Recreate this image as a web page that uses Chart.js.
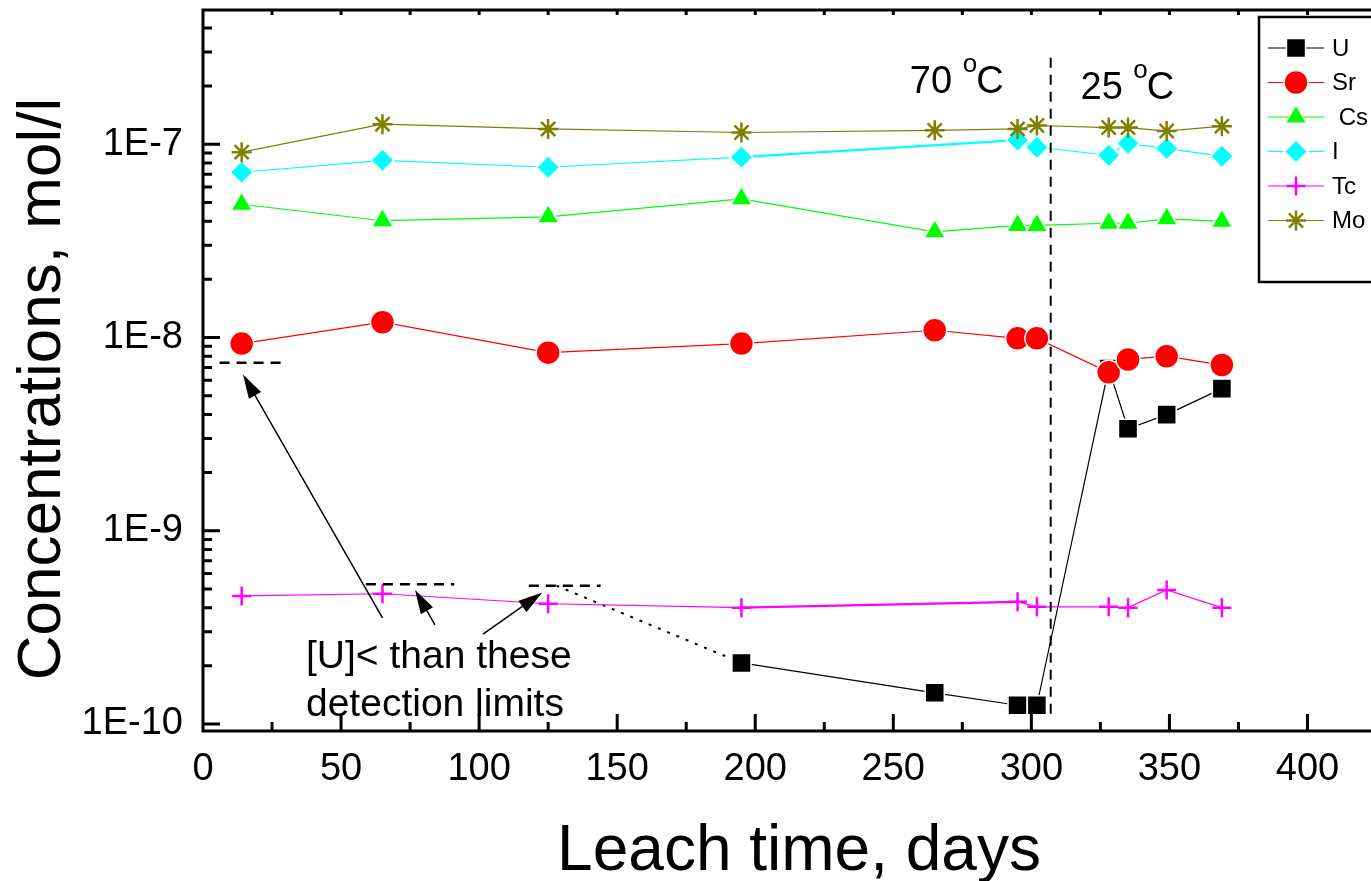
<!DOCTYPE html>
<html>
<head>
<meta charset="utf-8">
<script src="https://cdn.jsdelivr.net/npm/chart.js@4.4.1/dist/chart.umd.min.js"></script>
<style>
  html, body { margin: 0; padding: 0; background: #fff; }
  #wrap { width: 1371px; height: 881px; }
</style>
</head>
<body>
<div id="wrap"><canvas id="leachChart" width="1371" height="881"></canvas></div>
<script>
// leach time (days) at which samples were taken
const days = [14, 65, 125, 195, 265, 295, 302, 328, 335, 349, 369];

// concentrations, mol/l (null = not measured / below detection)
const uValues  = [null, null, null, 2.07e-10, 1.45e-10, 1.25e-10, 1.25e-10, 6.9e-9, 3.37e-9, 3.99e-9, 5.44e-9];
const srValues = [9.3e-9, 1.2e-8, 8.35e-9, 9.3e-9, 1.09e-8, 9.9e-9, 9.9e-9, 6.6e-9, 7.7e-9, 8.0e-9, 7.2e-9];
const csValues = [4.89e-8, 4.02e-8, 4.21e-8, 5.22e-8, 3.52e-8, 3.8e-8, 3.8e-8, 3.9e-8, 3.9e-8, 4.11e-8, 3.99e-8];
const iValues  = [7.16e-8, 8.26e-8, 7.6e-8, 8.57e-8, null, 1.05e-7, 9.65e-8, 8.77e-8, 1.01e-7, 9.5e-8, 8.67e-8];
const tcValues = [4.6e-10, 4.72e-10, 4.19e-10, 4.0e-10, null, 4.29e-10, 4.04e-10, 4.04e-10, 4.0e-10, 4.94e-10, 4.0e-10];
const moValues = [9.1e-8, 1.27e-7, 1.2e-7, 1.15e-7, 1.18e-7, 1.2e-7, 1.25e-7, 1.22e-7, 1.22e-7, 1.17e-7, 1.24e-7];

// axis tick labels
const xTickLabels = [0, 50, 100, 150, 200, 250, 300, 350, 400];
const yTickLabels = ["1E-10", "1E-9", "1E-8", "1E-7"];

// U detection limits (day range, level) and the dotted link to the first U value
const limitDays = [[6, 30], [59, 91], [118, 144]];
const limitValues = [7.4e-9, 5.28e-10, 5.2e-10];
const limitLinkStart = [128, 5.2e-10];

// 70 C / 25 C switch
const switchDay = 307;

const FONT = "'Liberation Sans', Arial, sans-serif";

const series = [
    { label: "U",   values: uValues,  color: "#000000", style: "rect",     radius: 13.5 },
    { label: "Sr",  values: srValues, color: "#ff0000", style: "circle",   radius: 12 },
    { label: " Cs", values: csValues, color: "#00ff00", style: "triangle", radius: 12.5 },
    { label: "I",   values: iValues,  color: "#00ffff", style: "rectRot",  radius: 11.5 },
    { label: "Tc",  values: tcValues, color: "#ff00ff", style: "cross",    radius: 9.5 },
    { label: "Mo",  values: moValues, color: "#808000", style: "star",     radius: 10 },
];

function isStroked(style) {
    return style === "cross" || style === "star";
}

function toPoints(values) {
    return days.map((d, i) => ({ x: d, y: values[i] })).filter(p => p.y !== null);
}

const datasets = series.map((s, i) => ({
    label: s.label,
    data: toPoints(s.values),
    borderColor: s.color,
    borderWidth: 1.2,
    pointStyle: s.style,
    pointRadius: s.radius,
    pointBackgroundColor: s.color,
    pointBorderColor: isStroked(s.style) ? s.color : "#ffffff",
    pointBorderWidth: isStroked(s.style) ? 2.5 : 1.5,
    order: series.length - i,
    segment: {
        borderWidth: c => (c.p0.parsed.x === 195 && c.p1.parsed.x === 295 ? 2.2 : 1.2),
    },
}));

function drawMarker(ctx, style, x, y, r, color) {
    ctx.save();
    ctx.fillStyle = color;
    ctx.strokeStyle = isStroked(style) ? color : "#ffffff";
    ctx.lineWidth = isStroked(style) ? 2.5 : 1.5;
    ctx.beginPath();
    if (style === "circle") {
        ctx.arc(x, y, r, 0, Math.PI * 2);
    } else if (style === "rect") {
        const h = r * Math.SQRT1_2;
        ctx.rect(x - h, y - h, 2 * h, 2 * h);
    } else if (style === "rectRot") {
        ctx.moveTo(x - r, y); ctx.lineTo(x, y - r); ctx.lineTo(x + r, y); ctx.lineTo(x, y + r);
        ctx.closePath();
    } else if (style === "triangle") {
        for (let k = 0; k < 3; k++) {
            const a = k * 2 * Math.PI / 3;
            const px = x + Math.sin(a) * r, py = y - Math.cos(a) * r;
            if (k === 0) ctx.moveTo(px, py); else ctx.lineTo(px, py);
        }
        ctx.closePath();
    } else if (style === "cross") {
        ctx.moveTo(x, y - r); ctx.lineTo(x, y + r);
        ctx.moveTo(x - r, y); ctx.lineTo(x + r, y);
    } else if (style === "star") {
        ctx.moveTo(x, y - r); ctx.lineTo(x, y + r);
        ctx.moveTo(x - r, y); ctx.lineTo(x + r, y);
        const d = r * Math.SQRT1_2;
        ctx.moveTo(x - d, y - d); ctx.lineTo(x + d, y + d);
        ctx.moveTo(x + d, y - d); ctx.lineTo(x - d, y + d);
    }
    if (!isStroked(style)) ctx.fill();
    ctx.stroke();
    ctx.restore();
}

function arrow(ctx, x0, y0, x1, y1) {
    const ang = Math.atan2(y1 - y0, x1 - x0);
    const len = 24, half = 7;
    ctx.beginPath();
    ctx.moveTo(x0, y0);
    ctx.lineTo(x1 - Math.cos(ang) * len * 0.8, y1 - Math.sin(ang) * len * 0.8);
    ctx.stroke();
    ctx.beginPath();
    ctx.moveTo(x1, y1);
    ctx.lineTo(x1 - Math.cos(ang) * len - Math.sin(ang) * half, y1 - Math.sin(ang) * len + Math.cos(ang) * half);
    ctx.lineTo(x1 - Math.cos(ang) * len + Math.sin(ang) * half, y1 - Math.sin(ang) * len - Math.cos(ang) * half);
    ctx.closePath();
    ctx.fill();
}

function tempLabel(ctx, x, y, num) {
    ctx.font = "38px " + FONT;
    ctx.fillText(num + " ", x, y);
    let cx = x + ctx.measureText(num + " ").width;
    ctx.font = "26px " + FONT;
    ctx.fillText("o", cx, y - 21);
    cx += ctx.measureText("o").width - 1;
    ctx.font = "38px " + FONT;
    ctx.fillText("C", cx, y);
}

const annotations = {
    id: "annotations",
    beforeDatasetsDraw(chart) {
        const { ctx, scales: { x, y } } = chart;
        // dotted link from last detection limit to first measured U value
        ctx.save();
        ctx.strokeStyle = "#000";
        ctx.lineWidth = 2;
        ctx.setLineDash([3, 7]);
        ctx.beginPath();
        ctx.moveTo(x.getPixelForValue(limitLinkStart[0]), y.getPixelForValue(limitLinkStart[1]));
        ctx.lineTo(x.getPixelForValue(195), y.getPixelForValue(uValues[3]));
        ctx.stroke();
        ctx.restore();
    },
    afterDatasetsDraw(chart) {
        const { ctx, scales: { x, y } } = chart;
        ctx.save();
        ctx.strokeStyle = "#000";
        ctx.fillStyle = "#000";

        // temperature switch
        ctx.lineWidth = 2;
        ctx.setLineDash([10, 7]);
        const sx = x.getPixelForValue(switchDay);
        ctx.beginPath();
        ctx.moveTo(sx, y.getPixelForValue(2.8e-7));
        ctx.lineTo(sx, y.getPixelForValue(1.06e-10));
        ctx.stroke();

        // detection limits
        ctx.lineWidth = 2.5;
        ctx.setLineDash([10, 7]);
        limitDays.forEach((r, i) => {
            const py = y.getPixelForValue(limitValues[i]);
            ctx.beginPath();
            ctx.moveTo(x.getPixelForValue(r[0]), py);
            ctx.lineTo(x.getPixelForValue(r[1]), py);
            ctx.stroke();
        });

        // arrows
        ctx.setLineDash([]);
        ctx.lineWidth = 1.5;
        const P = (d, v) => [x.getPixelForValue(d), y.getPixelForValue(v)];
        [
            [P(65, 3.54e-10), P(14.5, 6.43e-9)],
            [P(84, 3.26e-10), P(76.8, 4.94e-10)],
            [P(101.4, 2.92e-10), P(122.8, 4.78e-10)],
        ].forEach(([a, b]) => arrow(ctx, a[0], a[1], b[0], b[1]));

        // texts
        ctx.textAlign = "left";
        ctx.textBaseline = "alphabetic";
        ctx.font = "39px " + FONT;
        ctx.fillText("[U]< than these", x.getPixelForValue(37.3), y.getPixelForValue(1.95e-10));
        ctx.fillText("detection limits", x.getPixelForValue(37.3), y.getPixelForValue(1.1e-10));
        tempLabel(ctx, x.getPixelForValue(256), y.getPixelForValue(1.84e-7), "70");
        tempLabel(ctx, x.getPixelForValue(317.8), y.getPixelForValue(1.71e-7), "25");
        ctx.restore();
    },
    afterDraw(chart) {
        const { ctx, chartArea: { left, top, right, bottom }, scales: { x, y } } = chart;
        ctx.save();
        ctx.strokeStyle = "#000";
        ctx.lineWidth = 3;
        ctx.beginPath();
        // frame: left, bottom, top
        ctx.moveTo(left, top); ctx.lineTo(left, bottom + 1.5);
        ctx.moveTo(left - 1.5, bottom); ctx.lineTo(right, bottom);
        ctx.moveTo(left - 1.5, top); ctx.lineTo(right, top);
        // y ticks (inward)
        y.ticks.forEach(t => {
            const py = y.getPixelForValue(t.value);
            const major = Math.abs(Math.log10(t.value) - Math.round(Math.log10(t.value))) < 1e-6;
            ctx.moveTo(left, py); ctx.lineTo(left + (major ? 17 : 9), py);
        });
        // x ticks (inward) bottom and top
        x.ticks.forEach(t => {
            const px = x.getPixelForValue(t.value);
            const major = t.value % 50 === 0;
            ctx.moveTo(px, bottom); ctx.lineTo(px, bottom - (major ? 17 : 9));
            ctx.moveTo(px, top); ctx.lineTo(px, top + 5);
        });
        ctx.stroke();

        // axis titles
        ctx.fillStyle = "#000";
        ctx.textAlign = "center";
        ctx.textBaseline = "alphabetic";
        ctx.font = "64px " + FONT;
        ctx.fillText("Leach time, days", 799, 870);
        ctx.save();
        ctx.translate(60, 389);
        ctx.rotate(-Math.PI / 2);
        ctx.font = "62px " + FONT;
        ctx.fillText("Concentrations, mol/l", 0, 0);
        ctx.restore();

        // legend
        const lx = 1259, ly = 17;
        ctx.lineWidth = 2.5;
        ctx.strokeRect(lx, ly, 140, 265);
        series.forEach((s, i) => {
            const cy = 48 + i * 34.5;
            ctx.strokeStyle = s.color;
            ctx.lineWidth = 1.2;
            ctx.beginPath();
            ctx.moveTo(1268, cy); ctx.lineTo(1324, cy);
            ctx.stroke();
            drawMarker(ctx, s.style, 1296, cy, s.radius, s.color);
            ctx.fillStyle = "#000";
            ctx.textAlign = "left";
            ctx.textBaseline = "middle";
            ctx.font = "24px " + FONT;
            ctx.fillText(s.label, 1332, cy + 1);
        });
        ctx.restore();
    },
};

const ctxEl = document.getElementById("leachChart");
new Chart(ctxEl, {
    type: "line",
    data: { datasets: datasets },
    options: {
        responsive: false,
        animation: false,
        events: [],
        layout: { autoPadding: false, padding: { top: 10, right: 0, left: 0, bottom: 0 } },
        plugins: { legend: { display: false }, tooltip: { enabled: false } },
        scales: {
            x: {
                type: "linear",
                min: 0,
                max: 423,
                grid: { display: false, drawTicks: false },
                border: { display: false },
                afterBuildTicks: s => {
                    const t = [];
                    for (let v = 0; v <= 400; v += 25) t.push({ value: v });
                    s.ticks = t;
                },
                afterFit: s => { s.height = 150; s.paddingLeft = 0; s.paddingRight = 0; },
                ticks: {
                    autoSkip: false,
                    maxRotation: 0,
                    padding: 16,
                    color: "#000",
                    font: { family: FONT, size: 38 },
                    callback: v => (xTickLabels.includes(v) ? String(v) : ""),
                },
            },
            y: {
                type: "logarithmic",
                min: 9.2e-11,
                max: 4.95e-7,
                grid: { display: false, drawTicks: false },
                border: { display: false },
                afterBuildTicks: s => {
                    const t = [];
                    for (let e = -11; e <= -7; e++) {
                        for (let m = 1; m <= 9; m++) {
                            const v = m * Math.pow(10, e);
                            if (v >= s.min && v <= s.max) t.push({ value: v });
                        }
                    }
                    s.ticks = t;
                },
                afterFit: s => { s.width = 203; s.paddingTop = 0; s.paddingBottom = 0; },
                ticks: {
                    autoSkip: false,
                    padding: 20,
                    color: "#000",
                    font: { family: FONT, size: 38 },
                    callback: v => {
                        const e = Math.log10(v);
                        if (Math.abs(e - Math.round(e)) > 1e-6) return "";
                        const lbl = "1E" + Math.round(e);
                        return yTickLabels.includes(lbl) ? lbl : "";
                    },
                },
            },
        },
    },
    plugins: [annotations],
});
</script>
</body>
</html>
